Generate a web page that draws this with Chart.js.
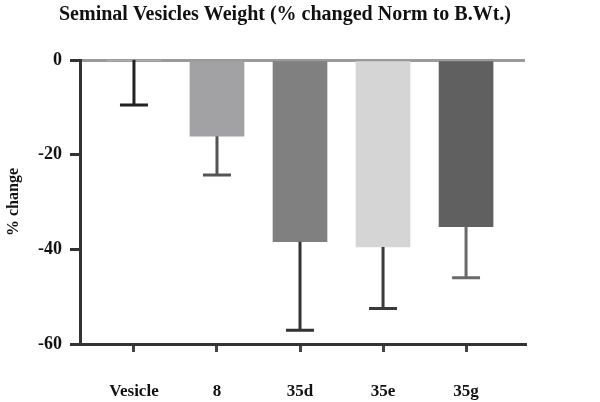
<!DOCTYPE html>
<html>
<head>
<meta charset="utf-8">
<script src="https://cdn.jsdelivr.net/npm/chart.js@4/dist/chart.umd.min.js"></script>
<style>
  html, body { margin: 0; padding: 0; background: #fff; }
  #wrap { width: 600px; height: 402px; position: relative; }
</style>
</head>
<body>
<div id="wrap"><canvas id="c"></canvas></div>
<script>
// ---- data ----
const titleText = 'Seminal Vesicles Weight (% changed Norm to B.Wt.)';
const yAxisTitle = '% change';
const categories = ['Vesicle', '8', '35d', '35e', '35g'];
const meanChange = [0, -16.1, -38.4, -39.5, -35.2];
const errorLow = [-9.5, -24.3, -57.1, -52.5, -46.0];
const yTicks = [0, -20, -40, -60];

// ---- styles ----
const barColors = ['#ffffff', '#a2a2a4', '#808080', '#d5d5d5', '#606060'];
const errColors = ['#222222', '#555555', '#333333', '#3a3a3a', '#6a6a6a'];
const serif = '"Liberation Serif", "Times New Roman", serif';

const errorBarPlugin = {
  id: 'errorBars',
  afterDatasetsDraw(chart) {
    const { ctx, scales: { x, y } } = chart;
    ctx.save();
    ctx.lineWidth = 3;
    categories.forEach((c, i) => {
      const px = x.getPixelForValue(i);
      const y0 = y.getPixelForValue(meanChange[i]);
      const y1 = y.getPixelForValue(errorLow[i]);
      ctx.strokeStyle = errColors[i];
      ctx.beginPath();
      ctx.moveTo(px, y0);
      ctx.lineTo(px, y1);
      ctx.moveTo(px - 14, y1);
      ctx.lineTo(px + 14, y1);
      ctx.stroke();
    });
    ctx.restore();
  }
};

const titlePlugin = {
  id: 'customTitle',
  afterDraw(chart) {
    const ctx = chart.ctx;
    ctx.save();
    ctx.font = 'bold 20px ' + serif;
    ctx.fillStyle = '#111';
    ctx.textAlign = 'center';
    ctx.textBaseline = 'middle';
    ctx.fillText(titleText, 285, 15);
    ctx.restore();
  }
};

new Chart(document.getElementById('c'), {
  type: 'bar',
  data: {
    datasets: [{
      data: meanChange.map((v, i) => ({ x: i, y: v })),
      backgroundColor: barColors,
      borderWidth: 0,
      barThickness: 54
    }]
  },
  options: {
    responsive: true,
    maintainAspectRatio: false,
    animation: false,
    layout: { padding: { top: 60, right: 75, bottom: 0, left: 0 } },
    plugins: { legend: { display: false }, tooltip: { enabled: false }, title: { display: false } },
    scales: {
      x: {
        type: 'linear',
        min: -0.65,
        max: 4.71,
        offset: false,
        afterFit(scale) { scale.height = 58; },
        grid: { display: true, offset: false, drawOnChartArea: false, tickLength: 8, tickColor: '#444', lineWidth: 3 },
        border: { display: true, color: '#333', width: 3 },
        ticks: {
          stepSize: 1,
          includeBounds: false,
          autoSkip: false,
          maxRotation: 0,
          padding: 29,
          color: '#111',
          font: { family: serif, size: 17, weight: 'bold' },
          callback: (v) => categories[v] !== undefined && Number.isInteger(v) ? categories[v] : ''
        }
      },
      y: {
        min: -60,
        max: 0,
        afterFit(scale) { scale.width = 80; },
        afterBuildTicks(scale) { scale.ticks = yTicks.map(v => ({ value: v })); },
        grid: {
          color: (ctx) => (ctx.tick && ctx.tick.value === 0) ? '#9a9a9a' : 'rgba(0,0,0,0)',
          lineWidth: 3,
          tickLength: 10,
          tickColor: '#333',
          drawTicks: true
        },
        border: { display: true, color: '#333', width: 3 },
        ticks: {
          padding: 8,
          color: '#111',
          font: { family: serif, size: 18, weight: 'bold' }
        },
        title: {
          display: true,
          text: yAxisTitle,
          color: '#111',
          padding: { top: 4, bottom: 0 },
          font: { family: serif, size: 16, weight: 'bold' }
        }
      }
    }
  },
  plugins: [errorBarPlugin, titlePlugin]
});
</script>
</body>
</html>
